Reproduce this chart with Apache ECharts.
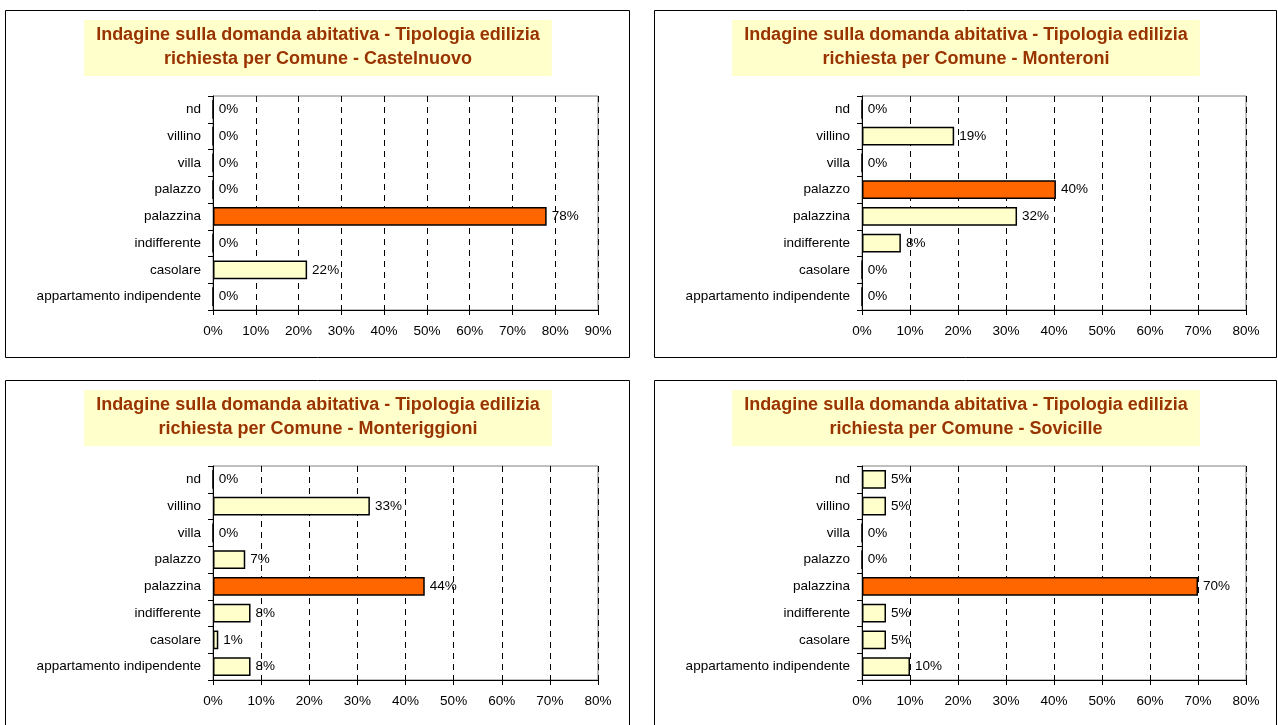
<!DOCTYPE html>
<html>
<head>
<meta charset="utf-8">
<script src="https://cdn.jsdelivr.net/npm/echarts@6/dist/echarts.min.js"></script>
<style>
  html, body { margin: 0; padding: 0; background: #fff; }
  #main { width: 1278px; height: 725px; }
</style>
</head>
<body>
<div id="main"></div>
<script>
// categorie dal basso verso l'alto (asse y di tipo category)
var categorie = ['appartamento indipendente', 'casolare', 'indifferente', 'palazzina',
                 'palazzo', 'villa', 'villino', 'nd'];
var comuni = ['Castelnuovo', 'Monteroni', 'Monteriggioni', 'Sovicille'];
var valCastelnuovo   = [0, 22, 0, 78, 0, 0, 0, 0];
var valMonteroni     = [0, 0, 8.1, 32.3, 40.4, 0, 19.2, 0];
var valMonteriggioni = [7.8, 1.1, 7.8, 44, 6.7, 0, 32.6, 0];
var valSovicille     = [10, 5, 5, 70, 0, 0, 5, 5];
var assiMax = [90, 80, 80, 80];

var valori = [valCastelnuovo, valMonteroni, valMonteriggioni, valSovicille];
var font = "'Liberation Sans', Arial, sans-serif";

// pannelli: bordo, area grafico
var pannelli = [
  {x: 5,   y: 10,  w: 624, h: 347, gl: 213, gw: 385},
  {x: 654, y: 10,  w: 622, h: 347, gl: 862, gw: 384},
  {x: 5,   y: 380, w: 624, h: 347, gl: 213, gw: 385},
  {x: 654, y: 380, w: 622, h: 347, gl: 862, gw: 384}
];

var titles = [], grids = [], xAxes = [], yAxes = [], series = [], graphic = [];

pannelli.forEach(function(p, i) {
  graphic.push({
    type: 'rect', z: -1,
    shape: {x: p.x + 0.5, y: p.y + 0.5, width: p.w, height: p.h},
    style: {fill: '#fff', stroke: '#000', lineWidth: 1}
  });
  titles.push({
    text: 'Indagine sulla domanda abitativa - Tipologia edilizia\nrichiesta per Comune - ' + comuni[i],
    left: p.x + p.w / 2 - 11,
    textAlign: 'center',
    top: p.y + 10,
    backgroundColor: '#FFFFCC',
    padding: [3, 12, 5, 12],
    textStyle: {
      fontFamily: font, fontSize: 18, fontWeight: 'bold',
      color: '#993300', lineHeight: 24, align: 'center'
    }
  });
  grids.push({
    left: p.gl, width: p.gw, top: p.y + 86, height: 214,
    show: true, backgroundColor: '#fff', borderColor: '#808080', borderWidth: 1
  });
  xAxes.push({
    type: 'value', gridIndex: i, min: 0, max: assiMax[i], interval: 10,
    axisLine: {show: true, lineStyle: {color: '#000', width: 1}},
    axisTick: {show: true, length: 5, lineStyle: {color: '#000'}},
    axisLabel: {formatter: '{value}%', color: '#000', fontFamily: font, fontSize: 13.5, margin: 14},
    splitLine: {show: true, lineStyle: {color: '#000', type: [6, 5], width: 1}}
  });
  yAxes.push({
    type: 'category', gridIndex: i, data: categorie,
    axisLine: {show: true, lineStyle: {color: '#000', width: 1}},
    axisTick: {show: true, length: 5, lineStyle: {color: '#000'}},
    axisLabel: {color: '#000', fontFamily: font, fontSize: 13.5, margin: 12},
    splitLine: {show: false}
  });
  var maxV = Math.max.apply(null, valori[i]);
  series.push({
    type: 'bar', xAxisIndex: i, yAxisIndex: i,
    barWidth: '70%',
    data: valori[i].map(function(v) {
      return {
        value: v,
        itemStyle: {color: v === maxV ? '#FF6600' : '#FFFFCC', borderColor: '#000', borderWidth: 1.5}
      };
    }),
    label: {
      show: true, position: 'right', distance: 5,
      color: '#000', fontFamily: font, fontSize: 13.5,
      formatter: function(d) { return Math.round(d.value) + '%'; }
    }
  });
});

var myChart = echarts.init(document.getElementById('main'));
myChart.setOption({
  animation: false,
  backgroundColor: '#fff',
  graphic: graphic,
  title: titles,
  grid: grids,
  xAxis: xAxes,
  yAxis: yAxes,
  series: series
});
</script>
</body>
</html>
